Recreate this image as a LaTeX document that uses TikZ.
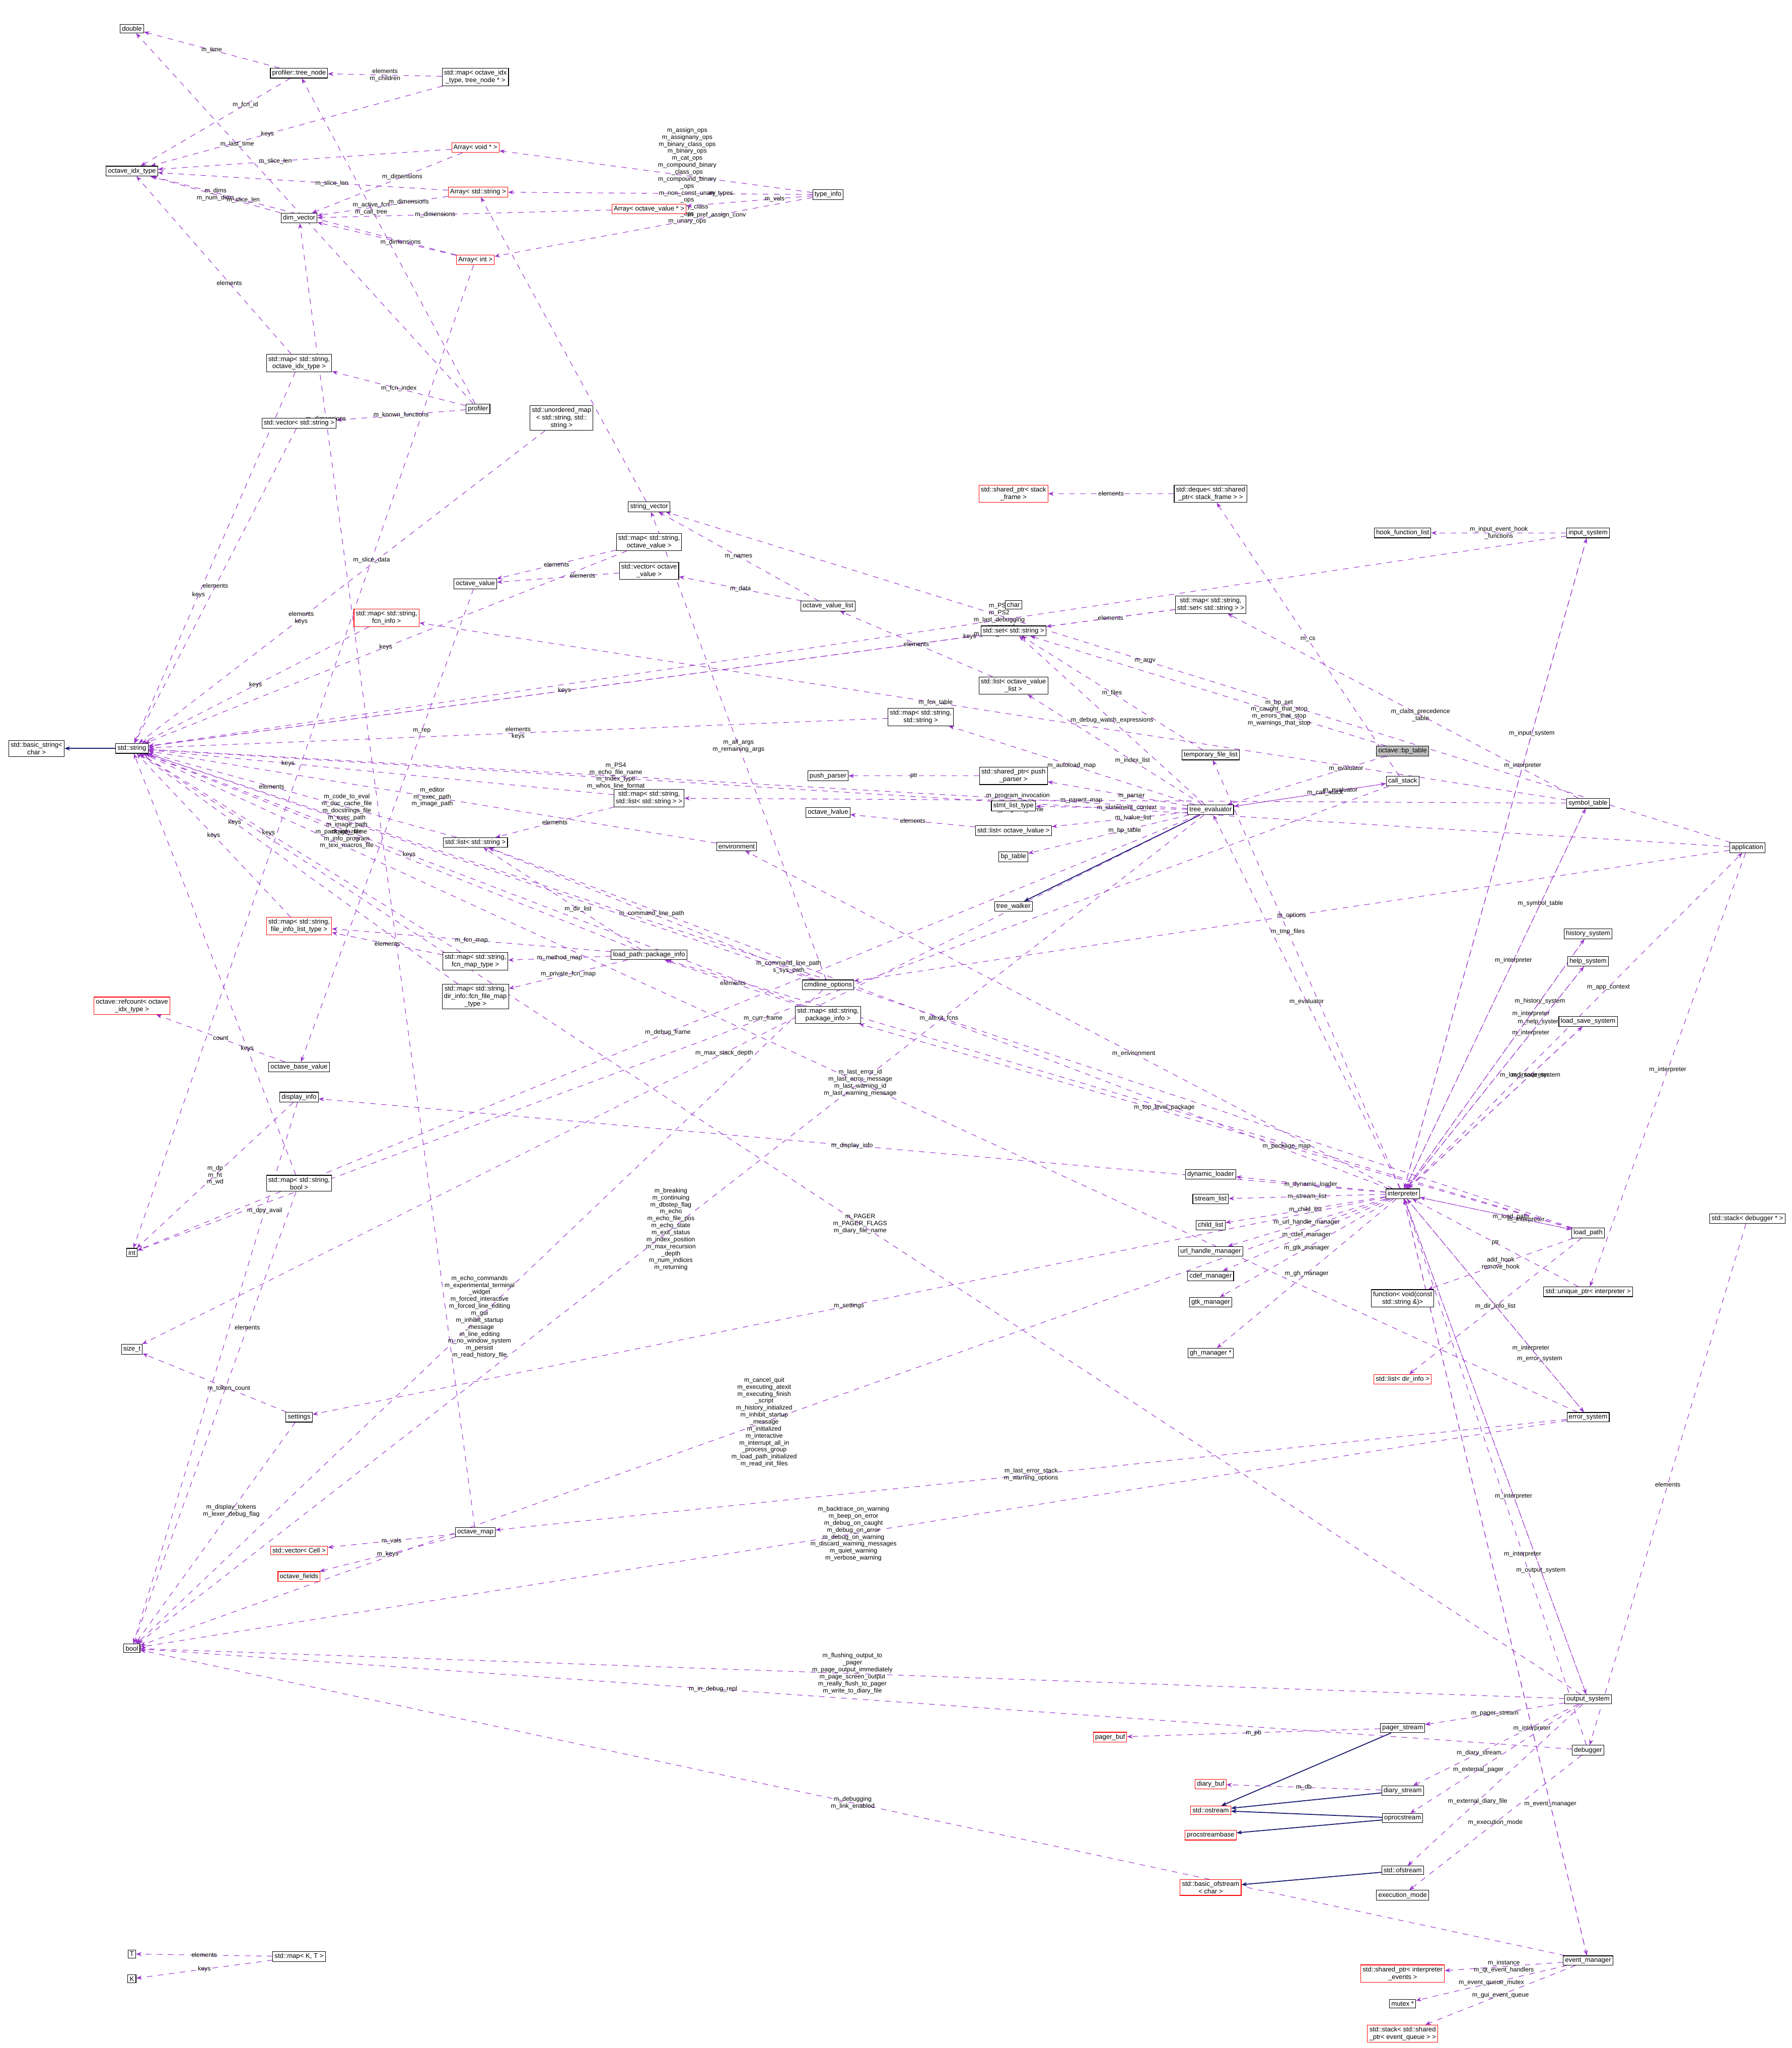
\documentclass[tikz,border=0pt]{standalone}
\usepackage{fontspec}
\setmainfont{Liberation Sans}
\usepackage{tikz}
\usetikzlibrary{calc}
\usetikzlibrary{arrows.meta}
\definecolor{usecol}{RGB}{153,50,204}
\definecolor{inhcol}{RGB}{25,25,112}
\pgfdeclarelayer{bg}
\pgfsetlayers{bg,main}
\tikzset{
  cls/.style={draw=black, line width=0.3pt, fill=white, inner sep=1pt, align=center, font=\fontsize{3.6}{4.1}\selectfont},
  tpl/.style={cls, draw=red},
  cur/.style={cls, fill=black!25},
  uses/.style={draw=usecol, dashed, line width=0.3pt, -{Stealth[length=3pt]}},
  inh/.style={draw=inhcol, line width=0.5pt, -{Stealth[length=3pt]}},
  lbl/.style={font=\fontsize{3.4}{3.8}\selectfont, align=center, inner sep=0.5pt}
}
\newcommand{\uses}[3]{\begin{pgfonlayer}{bg}\draw[uses] (#1) -- node[lbl]{#3} (#2);\end{pgfonlayer}}
\newcommand{\usesat}[4]{\begin{pgfonlayer}{bg}\draw[uses] (#1) -- node[lbl, pos=#3]{#4} (#2);\end{pgfonlayer}}
\newcommand{\inh}[2]{\begin{pgfonlayer}{bg}\draw[inh] (#1) -- (#2);\end{pgfonlayer}}

\begin{document}
\begin{tikzpicture}[x=0.025cm, y=-0.025cm]
    \useasboundingbox (0,0) rectangle (1372,1568);
    % left column
    \node[cls] (dbl) at (101,22) {double};
    \node[cls] (treenode) at (229,56) {profiler::tree\_node};
    \node[cls] (mapnode) at (364,59) {std::map< octave\_idx\\\_type, tree\_node * >};
    \node[cls] (idx) at (101,131) {octave\_idx\_type};
    \node[tpl] (arrvoid) at (364,113) {Array< void * >};
    \node[tpl] (arrstr) at (366,147) {Array< std::string >};
    \node[tpl] (arrov) at (497,160) {Array< octave\_value * >};
    \node[cls] (dimv) at (229,167) {dim\_vector};
    \node[cls] (typeinfo) at (634,149) {type\_info};
    \node[tpl] (arrint) at (364,199) {Array< int >};
    \node[cls] (mapidx) at (229,278) {std::map< std::string,\\ octave\_idx\_type >};
    \node[cls] (vecstr) at (229,324) {std::vector< std::string >};
    \node[cls] (profiler) at (366,313) {profiler};
    \node[cls] (umap) at (430,320) {std::unordered\_map\\< std::string, std::\\string >};
    \node[cls] (strvec) at (497,388) {string\_vector};
    \node[cls] (mapov) at (497,415) {std::map< std::string,\\ octave\_value >};
    \node[cls] (ov) at (364,447) {octave\_value};
    \node[cls] (vecov) at (497,437) {std::vector< octave\\\_value >};
    \node[cls] (ovl) at (634,464) {octave\_value\_list};
    \node[tpl] (spframe) at (776,378) {std::shared\_ptr< stack\\\_frame >};
    \node[cls] (deque) at (927,378) {std::deque< std::shared\\\_ptr< stack\_frame > >};
    \node[cls] (hooks) at (1074,408) {hook\_function\_list};
    \node[cls] (input) at (1216,408) {input\_system};
    \node[cls] (char) at (776,463) {char};
    \node[cls] (mapset) at (927,463) {std::map< std::string,\\ std::set< std::string > >};
    \node[cls] (setstr) at (776,483) {std::set< std::string >};
    \node[tpl] (mapfcn) at (296,473) {std::map< std::string,\\ fcn\_info >};
    \node[cls] (listovl) at (776,525) {std::list< octave\_value\\\_list >};
    \node[cls] (mapss) at (705,549) {std::map< std::string,\\ std::string >};
    \node[cls] (bstr) at (28,573) {std::basic\_string<\\ char >};
    \node[cls] (str) at (101,573) {std::string};
    \node[cls] (tmpf) at (927,578) {temporary\_file\_list};
    \node[cur] (obp) at (1074,575) {octave::bp\_table};
    \node[cls] (pushp) at (634,594) {push\_parser};
    \node[cls] (sppush) at (776,594) {std::shared\_ptr< push\\\_parser >};
    \node[cls] (mapls) at (497,611) {std::map< std::string,\\ std::list< std::string > >};
    \node[cls] (cstack) at (1074,598) {call\_stack};
    \node[cls] (stmt) at (776,617) {stmt\_list\_type};
    \node[cls] (lval) at (634,622) {octave\_lvalue};
    \node[cls] (listlval) at (776,636) {std::list< octave\_lvalue >};
    \node[cls] (teval) at (927,620) {tree\_evaluator};
    \node[cls] (symtab) at (1216,615) {symbol\_table};
    \node[cls] (liststr) at (364,645) {std::list< std::string >};
    \node[cls] (env) at (564,648) {environment};
    \node[cls] (app) at (1338,649) {application};
    \node[cls] (bptab) at (776,656) {bp\_table};
    \node[cls] (twalk) at (776,694) {tree\_walker};
    \node[tpl] (mapfile) at (229,709) {std::map< std::string,\\ file\_info\_list\_type >};
    \node[cls] (hist) at (1216,715) {history\_system};
    \node[cls] (help) at (1216,736) {help\_system};
    \node[cls] (mapfmap) at (364,736) {std::map< std::string,\\ fcn\_map\_type >};
    \node[cls] (pkg) at (497,731) {load\_path::package\_info};
    \node[cls] (cmdl) at (634,754) {cmdline\_options};
    \node[cls] (mappkg) at (634,777) {std::map< std::string,\\ package\_info >};
    \node[cls] (lss) at (1216,782) {load\_save\_system};
    \node[cls] (mapdir) at (364,763) {std::map< std::string,\\ dir\_info::fcn\_file\_map\\\_type >};
    \node[tpl] (refc) at (101,770) {octave::refcount< octave\\\_idx\_type >};
    \node[cls] (obv) at (229,817) {octave\_base\_value};
    \node[cls] (disp) at (229,840) {display\_info};
    \node[cls] (mapbool) at (229,906) {std::map< std::string,\\ bool >};
    \node[cls] (dynl) at (927,899) {dynamic\_loader};
    \node[cls] (interp) at (1074,914) {interpreter};
    \node[cls] (streams) at (927,918) {stream\_list};
    \node[cls] (stdbg) at (1338,933) {std::stack< debugger * >};
    \node[cls] (childl) at (927,938) {child\_list};
    \node[cls] (int) at (101,959) {int};
    \node[cls] (urlh) at (927,958) {url\_handle\_manager};
    \node[cls] (func) at (1074,994) {function< void(const\\ std::string \&)>};
    \node[cls] (lpath) at (1216,944) {load\_path};
    \node[cls] (uptr) at (1216,989) {std::unique\_ptr< interpreter >};
    \node[cls] (cdef) at (927,977) {cdef\_manager};
    \node[cls] (gtk) at (927,997) {gtk\_manager};
    \node[cls] (gh) at (927,1036) {gh\_manager *};
    \node[cls] (sizet) at (101,1033) {size\_t};
    \node[tpl] (listdir) at (1074,1056) {std::list< dir\_info >};
    \node[cls] (errs) at (1216,1085) {error\_system};
    \node[cls] (sett) at (229,1085) {settings};
    \node[cls] (omap) at (364,1173) {octave\_map};
    \node[tpl] (veccell) at (229,1187) {std::vector< Cell >};
    \node[tpl] (ofields) at (229,1207) {octave\_fields};
    \node[cls] (bool) at (101,1262) {bool};
    \node[cls] (outs) at (1216,1301) {output\_system};
    \node[cls] (pstream) at (1074,1323) {pager\_stream};
    \node[tpl] (pbuf) at (850,1330) {pager\_buf};
    \node[cls] (dbg) at (1216,1340) {debugger};
    \node[tpl] (dbuf) at (927,1366) {diary\_buf};
    \node[cls] (dstream) at (1074,1371) {diary\_stream};
    \node[tpl] (ostr) at (927,1386) {std::ostream};
    \node[cls] (oproc) at (1074,1392) {oprocstream};
    \node[tpl] (procb) at (927,1405) {procstreambase};
    \node[cls] (ofs) at (1074,1432) {std::ofstream};
    \node[tpl] (bofs) at (927,1445) {std::basic\_ofstream\\< char >};
    \node[cls] (emode) at (1074,1451) {execution\_mode};
    \node[cls] (T) at (101,1496) {T};
    \node[cls] (mapkt) at (229,1498) {std::map< K, T >};
    \node[cls] (evm) at (1216,1501) {event\_manager};
    \node[cls] (K) at (101,1515) {K};
    \node[tpl] (spevt) at (1074,1511) {std::shared\_ptr< interpreter\\\_events >};
    \node[cls] (mutex) at (1074,1534) {mutex *};
    \node[tpl] (stevq) at (1074,1557) {std::stack< std::shared\\\_ptr< event\_queue > >};
    % inheritance
    \inh{str}{bstr}
    \inh{teval}{twalk}
    \inh{pstream}{ostr}
    \inh{dstream}{ostr}
    \inh{oproc}{ostr}
    \inh{oproc}{procb}
    \inh{ofs}{bofs}
    % profiler and arrays
    \uses{treenode}{dbl}{m\_time}
    \usesat{treenode}{idx}{0.3}{m\_fcn\_id}
    \uses{mapnode}{treenode}{elements\\m\_children}
    \usesat{mapnode}{idx}{0.6}{keys}
    \usesat{profiler}{treenode}{0.6}{m\_active\_fcn\\m\_call\_tree}
    \usesat{profiler}{dbl}{0.7}{m\_last\_time}
    \uses{profiler}{mapidx}{m\_fcn\_index}
    \uses{profiler}{vecstr}{m\_known\_functions}
    \uses{dimv}{idx}{m\_dims\\m\_num\_dims}
    \usesat{arrvoid}{idx}{0.6}{m\_slice\_len}
    \usesat{arrvoid}{dimv}{0.4}{m\_dimensions}
    \usesat{arrstr}{idx}{0.4}{m\_slice\_len}
    \usesat{arrstr}{dimv}{0.3}{m\_dimensions}
    \usesat{arrov}{dimv}{0.6}{m\_dimensions}
    \usesat{arrint}{dimv}{0.4}{m\_dimensions}
    \usesat{arrint}{idx}{0.7}{m\_slice\_len}
    \usesat{arrint}{int}{0.3}{m\_slice\_data}
    \usesat{typeinfo}{arrvoid}{0.4}{m\_assign\_ops\\m\_assignany\_ops\\m\_binary\_class\_ops\\m\_binary\_ops\\m\_cat\_ops\\m\_compound\_binary\\\_class\_ops\\m\_compound\_binary\\\_ops\\m\_non\_const\_unary\\\_ops\\m\_unary\_class\\\_ops\\m\_unary\_ops}
    \usesat{typeinfo}{arrstr}{0.3}{m\_types}
    \usesat{typeinfo}{arrov}{0.3}{m\_vals}
    \usesat{typeinfo}{arrint}{0.3}{m\_pref\_assign\_conv}
    \usesat{mapidx}{str}{0.6}{keys}
    \usesat{mapidx}{idx}{0.4}{elements}
    \usesat{vecstr}{str}{0.5}{elements}
    \usesat{umap}{str}{0.6}{elements\\keys}
    \uses{strvec}{arrstr}{}
    \uses{mapov}{str}{keys}
    \uses{mapov}{ov}{elements}
    \usesat{vecov}{ov}{0.3}{elements}
    \uses{ovl}{vecov}{m\_data}
    \uses{ovl}{strvec}{m\_names}
    \usesat{ov}{obv}{0.3}{m\_rep}
    \uses{mapfcn}{str}{keys}
    \uses{obv}{refc}{count}
    \uses{disp}{int}{m\_dp\\m\_ht\\m\_wd}
    \usesat{disp}{bool}{0.2}{m\_dpy\_avail}
    \usesat{mapbool}{str}{0.3}{keys}
    \usesat{mapbool}{bool}{0.3}{elements}
    \usesat{sett}{bool}{0.4}{m\_display\_tokens\\m\_lexer\_debug\_flag}
    \usesat{sett}{sizet}{0.4}{m\_token\_count}
    \uses{omap}{veccell}{m\_vals}
    \uses{omap}{ofields}{m\_keys}
    \usesat{omap}{dimv}{0.85}{m\_dimensions}
    \uses{mapkt}{T}{elements}
    \uses{mapkt}{K}{keys}
    % evaluator
    \uses{deque}{spframe}{elements}
    \uses{cstack}{deque}{m\_cs}
    \usesat{cstack}{teval}{0.3}{m\_evaluator}
    \usesat{obp}{teval}{0.25}{m\_evaluator}
    \usesat{obp}{setstr}{0.3}{m\_bp\_set\\m\_caught\_that\_stop\\m\_errors\_that\_stop\\m\_warnings\_that\_stop}
    \uses{mapset}{setstr}{elements}
    \usesat{mapset}{str}{0.2}{keys}
    \usesat{setstr}{str}{0.5}{keys}
    \uses{listovl}{ovl}{elements}
    \usesat{mapss}{str}{0.5}{elements\\keys}
    \uses{tmpf}{setstr}{m\_files}
    \usesat{teval}{listovl}{0.4}{m\_index\_list}
    \usesat{teval}{mapss}{0.5}{m\_autoload\_map}
    \usesat{teval}{sppush}{0.4}{m\_parser}
    \uses{sppush}{pushp}{ptr}
    \usesat{teval}{stmt}{0.4}{m\_statement\_context}
    \usesat{teval}{listlval}{0.4}{m\_lvalue\_list}
    \uses{listlval}{lval}{elements}
    \usesat{teval}{bptab}{0.4}{m\_bp\_table}
    \usesat{teval}{str}{0.55}{m\_PS4\\m\_echo\_file\_name\\m\_index\_type\\m\_whos\_line\_format}
    \usesat{teval}{cstack}{0.6}{m\_call\_stack}
    \usesat{teval}{setstr}{0.5}{m\_debug\_watch\_expressions}
    \usesat{teval}{int}{0.5}{m\_debug\_frame}
    \usesat{teval}{sizet}{0.45}{m\_max\_stack\_depth}
    \usesat{teval}{bool}{0.5}{m\_breaking\\m\_continuing\\m\_dbstep\_flag\\m\_echo\\m\_echo\_file\_pos\\m\_echo\_state\\m\_exit\_status\\m\_index\_position\\m\_max\_recursion\\\_depth\\m\_num\_indices\\m\_returning}
    \usesat{cstack}{int}{0.5}{m\_curr\_frame}
    % interpreter
    \uses{input}{hooks}{m\_input\_event\_hook\\\_functions}
    \usesat{input}{str}{0.4}{m\_PS1\\m\_PS2\\m\_last\_debugging\\\_command\\m\_mfile\_encoding}
    \usesat{input}{interp}{0.35}{m\_interpreter}
    \usesat{interp}{tmpf}{0.6}{m\_tmp\_files}
    \usesat{interp}{teval}{0.5}{m\_evaluator}
    \usesat{interp}{symtab}{0.75}{m\_symbol\_table}
    \usesat{interp}{hist}{0.75}{m\_history\_system}
    \usesat{interp}{help}{0.75}{m\_help\_system}
    \usesat{interp}{lss}{0.7}{m\_load\_save\_system}
    \usesat{interp}{input}{0.7}{m\_input\_system}
    \usesat{interp}{env}{0.4}{m\_environment}
    \usesat{interp}{lpath}{0.6}{m\_load\_path}
    \usesat{interp}{errs}{0.75}{m\_error\_system}
    \usesat{interp}{outs}{0.75}{m\_output\_system}
    \usesat{interp}{evm}{0.8}{m\_event\_manager}
    \usesat{interp}{dynl}{0.5}{m\_dynamic\_loader}
    \usesat{interp}{streams}{0.5}{m\_stream\_list}
    \usesat{interp}{childl}{0.5}{m\_child\_list}
    \usesat{interp}{urlh}{0.5}{m\_url\_handle\_manager}
    \usesat{interp}{cdef}{0.5}{m\_cdef\_manager}
    \usesat{interp}{gtk}{0.5}{m\_gtk\_manager}
    \usesat{interp}{gh}{0.5}{m\_gh\_manager}
    \usesat{interp}{sett}{0.5}{m\_settings}
    \usesat{interp}{disp}{0.5}{m\_display\_info}
    \usesat{interp}{app}{0.6}{m\_app\_context}
    \usesat{interp}{bool}{0.5}{m\_cancel\_quit\\m\_executing\_atexit\\m\_executing\_finish\\\_script\\m\_history\_initialized\\m\_inhibit\_startup\\\_message\\m\_initialized\\m\_interactive\\m\_interrupt\_all\_in\\\_process\_group\\m\_load\_path\_initialized\\m\_read\_init\_files}
    \usesat{interp}{liststr}{0.5}{m\_atexit\_fcns}
    \usesat{app}{cmdl}{0.5}{m\_options}
    \usesat{app}{uptr}{0.5}{m\_interpreter}
    \uses{uptr}{interp}{ptr}
    \usesat{app}{str}{0.45}{m\_program\_invocation\\\_name\\m\_program\_name}
    \usesat{app}{strvec}{0.55}{m\_argv}
    \usesat{symtab}{interp}{0.4}{m\_interpreter}
    \usesat{symtab}{mapfcn}{0.55}{m\_fcn\_table}
    \usesat{symtab}{mapset}{0.45}{m\_class\_precedence\\\_table}
    \usesat{symtab}{mapls}{0.55}{m\_parent\_map}
    \usesat{hist}{interp}{0.3}{m\_interpreter}
    \usesat{help}{interp}{0.3}{m\_interpreter}
    \usesat{lss}{interp}{0.3}{m\_interpreter}
    \usesat{errs}{interp}{0.3}{m\_interpreter}
    \usesat{outs}{interp}{0.4}{m\_interpreter}
    \usesat{evm}{interp}{0.3}{m\_interpreter}
    \usesat{lpath}{interp}{0.3}{m\_interpreter}
    \usesat{dbg}{interp}{0.35}{m\_interpreter}
    \uses{stdbg}{dbg}{elements}
    \uses{lpath}{func}{add\_hook\\remove\_hook}
    \usesat{lpath}{listdir}{0.5}{m\_dir\_info\_list}
    \usesat{lpath}{mappkg}{0.4}{m\_package\_map}
    \usesat{lpath}{pkg}{0.45}{m\_top\_level\_package}
    \usesat{lpath}{str}{0.55}{m\_command\_line\_path\\s\_sys\_path}
    \usesat{pkg}{str}{0.6}{m\_package\_name}
    \usesat{pkg}{liststr}{0.4}{m\_dir\_list}
    \usesat{pkg}{mapfile}{0.5}{m\_fcn\_map}
    \usesat{pkg}{mapfmap}{0.5}{m\_method\_map}
    \usesat{pkg}{mapdir}{0.5}{m\_private\_fcn\_map}
    \uses{mappkg}{pkg}{elements}
    \usesat{mappkg}{str}{0.6}{keys}
    \usesat{mapfmap}{str}{0.6}{keys}
    \usesat{mapfmap}{mapfile}{0.5}{elements}
    \usesat{mapfile}{str}{0.5}{keys}
    \usesat{mapdir}{str}{0.7}{keys}
    \usesat{liststr}{str}{0.6}{elements}
    \usesat{mapls}{liststr}{0.5}{elements}
    \usesat{mapls}{str}{0.7}{keys}
    \usesat{env}{str}{0.5}{m\_editor\\m\_exec\_path\\m\_image\_path}
    \usesat{cmdl}{strvec}{0.5}{m\_all\_args\\m\_remaining\_args}
    \usesat{cmdl}{liststr}{0.5}{m\_command\_line\_path}
    \usesat{cmdl}{str}{0.7}{m\_code\_to\_eval\\m\_doc\_cache\_file\\m\_docstrings\_file\\m\_exec\_path\\m\_image\_path\\m\_info\_file\\m\_info\_program\\m\_texi\_macros\_file}
    \usesat{cmdl}{bool}{0.5}{m\_echo\_commands\\m\_experimental\_terminal\\\_widget\\m\_forced\_interactive\\m\_forced\_line\_editing\\m\_gui\\m\_inhibit\_startup\\\_message\\m\_line\_editing\\m\_no\_window\_system\\m\_persist\\m\_read\_history\_file}
    \usesat{errs}{bool}{0.5}{m\_backtrace\_on\_warning\\m\_beep\_on\_error\\m\_debug\_on\_caught\\m\_debug\_on\_error\\m\_debug\_on\_warning\\m\_discard\_warning\_messages\\m\_quiet\_warning\\m\_verbose\_warning}
    \usesat{errs}{str}{0.5}{m\_last\_error\_id\\m\_last\_error\_message\\m\_last\_warning\_id\\m\_last\_warning\_message}
    \usesat{errs}{omap}{0.5}{m\_last\_error\_stack\\m\_warning\_options}
    \usesat{outs}{pstream}{0.5}{m\_pager\_stream}
    \usesat{outs}{dstream}{0.6}{m\_diary\_stream}
    \usesat{outs}{oproc}{0.6}{m\_external\_pager}
    \usesat{outs}{ofs}{0.6}{m\_external\_diary\_file}
    \usesat{outs}{bool}{0.5}{m\_flushing\_output\_to\\\_pager\\m\_page\_output\_immediately\\m\_page\_screen\_output\\m\_really\_flush\_to\_pager\\m\_write\_to\_diary\_file}
    \usesat{outs}{str}{0.5}{m\_PAGER\\m\_PAGER\_FLAGS\\m\_diary\_file\_name}
    \uses{pstream}{pbuf}{m\_pb}
    \uses{dstream}{dbuf}{m\_db}
    \usesat{dbg}{emode}{0.5}{m\_execution\_mode}
    \usesat{dbg}{bool}{0.6}{m\_in\_debug\_repl}
    \uses{evm}{spevt}{m\_instance\\m\_qt\_event\_handlers}
    \uses{evm}{mutex}{m\_event\_queue\_mutex}
    \uses{evm}{stevq}{m\_gui\_event\_queue}
    \usesat{evm}{bool}{0.5}{m\_debugging\\m\_link\_enabled}
\end{tikzpicture}
\end{document}
